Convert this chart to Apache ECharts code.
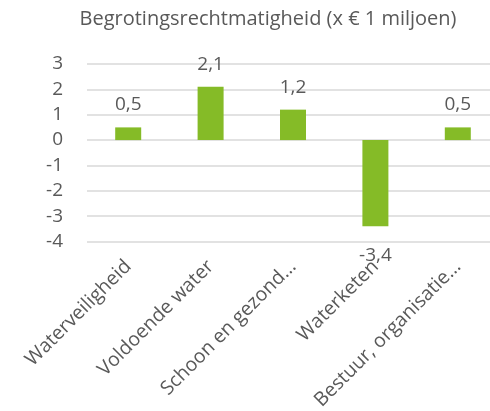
<!DOCTYPE html>
<html><head><meta charset="utf-8">
<script src="https://cdn.jsdelivr.net/npm/echarts@6/dist/echarts.min.js"></script>
<style>html,body{margin:0;padding:0;background:#fff}#c{width:490px;height:411px}</style>
</head><body><div id="c"></div>
<script>
const titleText = "Begrotingsrechtmatigheid (x € 1 miljoen)";
const categories = ["Waterveiligheid", "Voldoende water", "Schoon en gezond…", "Waterketen", "Bestuur, organisatie…"];
const values = [0.5, 2.1, 1.2, -3.4, 0.5];
const yTicks = {min: -4, max: 3, interval: 1};

const font = "'Open Sans', sans-serif";
const txt = "#595959";
const chart = echarts.init(document.getElementById('c'), null, {renderer: 'canvas'});
chart.setOption({
  animation: false,
  title: {text: titleText, left: 263, top: 4, textAlign: 'center',
    textStyle: {fontFamily: font, fontSize: 20, fontWeight: 'normal', color: txt}},
  grid: {left: 87, top: 64, width: 412, height: 177.5, containLabel: false, outerBoundsMode: 'none'},
  xAxis: {type: 'category', data: categories,
    axisLine: {show: false, onZero: false}, axisTick: {show: false},
    axisLabel: {rotate: 45, interval: 0, margin: 22, fontFamily: font, fontSize: 19.5, color: txt}},
  yAxis: {type: 'value', min: yTicks.min, max: yTicks.max, interval: yTicks.interval,
    axisLine: {show: false}, axisTick: {show: false},
    splitLine: {lineStyle: {color: '#d9d9d9', width: 1.5}},
    axisLabel: {margin: 24, fontFamily: font, fontSize: 19, color: txt}},
  series: [{type: 'bar', barWidth: 26,
    itemStyle: {color: '#85bb27'},
    data: values.map(v => ({value: v, label: {position: v < 0 ? 'bottom' : 'top', distance: v < 0 ? 20 : 13}})),
    label: {show: true, fontFamily: font, fontSize: 19, color: txt,
      formatter: p => String(p.value).replace('.', ',')}}]
});
</script></body></html>
